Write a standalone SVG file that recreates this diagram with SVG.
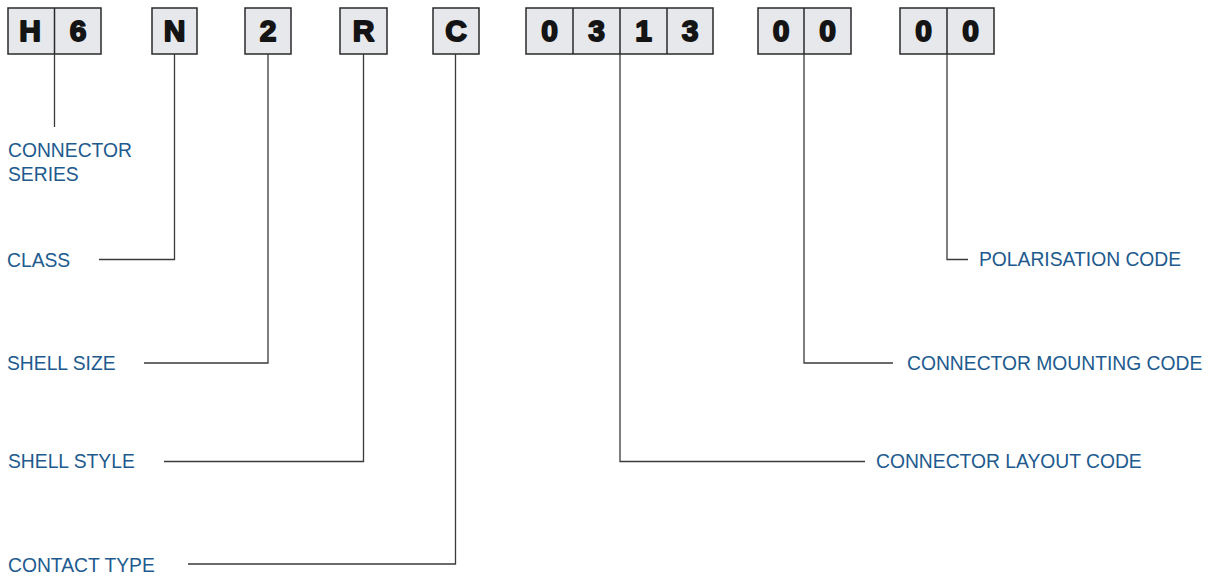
<svg xmlns="http://www.w3.org/2000/svg" width="1210" height="578" viewBox="0 0 1210 578">
<style>
.box{fill:#e6e8ec;stroke:#2a2a2a;stroke-width:1.5}
.div{stroke:#2a2a2a;stroke-width:1.5}
.ch{font-family:"Liberation Sans",Arial,sans-serif;font-weight:bold;font-size:30px;fill:#141414;stroke:#141414;stroke-width:1.8;stroke-linejoin:round;text-anchor:middle}
.lbl{font-family:"Liberation Sans",Arial,sans-serif;font-size:19.3px;fill:#215a8e}
.con{fill:none;stroke:#3a3a3a;stroke-width:1.3}
</style>
<rect width="1210" height="578" fill="#ffffff"/>
<g id="box-H6">
<rect class="box" x="8" y="8" width="93" height="46"/>
<line class="div" x1="54.5" y1="8" x2="54.5" y2="54"/>
<text class="ch" x="30" y="41">H</text>
<text class="ch" x="78" y="41">6</text>
</g>
<g id="box-N">
<rect class="box" x="152" y="8" width="45" height="46"/>
<text class="ch" x="174.5" y="41">N</text>
</g>
<g id="box-2">
<rect class="box" x="245" y="8" width="46" height="46"/>
<text class="ch" x="268" y="41">2</text>
</g>
<g id="box-R">
<rect class="box" x="340" y="8" width="47" height="46"/>
<text class="ch" x="363.5" y="41">R</text>
</g>
<g id="box-C">
<rect class="box" x="433" y="8" width="46" height="46"/>
<text class="ch" x="456" y="41">C</text>
</g>
<g id="box-0313">
<rect class="box" x="526" y="8" width="187" height="46"/>
<line class="div" x1="573" y1="8" x2="573" y2="54"/>
<line class="div" x1="620" y1="8" x2="620" y2="54"/>
<line class="div" x1="667" y1="8" x2="667" y2="54"/>
<text class="ch" x="549.5" y="41">0</text>
<text class="ch" x="596.5" y="41">3</text>
<text class="ch" x="643.5" y="41">1</text>
<text class="ch" x="690" y="41">3</text>
</g>
<g id="box-00a">
<rect class="box" x="758" y="8" width="93" height="46"/>
<line class="div" x1="804" y1="8" x2="804" y2="54"/>
<text class="ch" x="781" y="41">0</text>
<text class="ch" x="827.5" y="41">0</text>
</g>
<g id="box-00b">
<rect class="box" x="900" y="8" width="94" height="46"/>
<line class="div" x1="947" y1="8" x2="947" y2="54"/>
<text class="ch" x="923.5" y="41">0</text>
<text class="ch" x="970.5" y="41">0</text>
</g>
<g id="connectors">
<polyline class="con" points="54.5,54 54.5,127"/>
<polyline class="con" points="174.5,54 174.5,259.5 99,259.5"/>
<polyline class="con" points="268,54 268,363 144,363"/>
<polyline class="con" points="363.5,54 363.5,461.5 164,461.5"/>
<polyline class="con" points="455.5,54 455.5,564 188,564"/>
<polyline class="con" points="620,54 620,461.5 865,461.5"/>
<polyline class="con" points="804,54 804,363 893,363"/>
<polyline class="con" points="947,54 947,259.5 968,259.5"/>
</g>
<g id="labels">
<text class="lbl" x="8" y="157">CONNECTOR</text>
<text class="lbl" x="8" y="181">SERIES</text>
<text class="lbl" x="7" y="267">CLASS</text>
<text class="lbl" x="7" y="370">SHELL SIZE</text>
<text class="lbl" x="8" y="468">SHELL STYLE</text>
<text class="lbl" x="8" y="572">CONTACT TYPE</text>
<text class="lbl" x="876" y="468">CONNECTOR LAYOUT CODE</text>
<text class="lbl" x="907" y="370">CONNECTOR MOUNTING CODE</text>
<text class="lbl" x="979" y="266">POLARISATION CODE</text>
</g>
</svg>
